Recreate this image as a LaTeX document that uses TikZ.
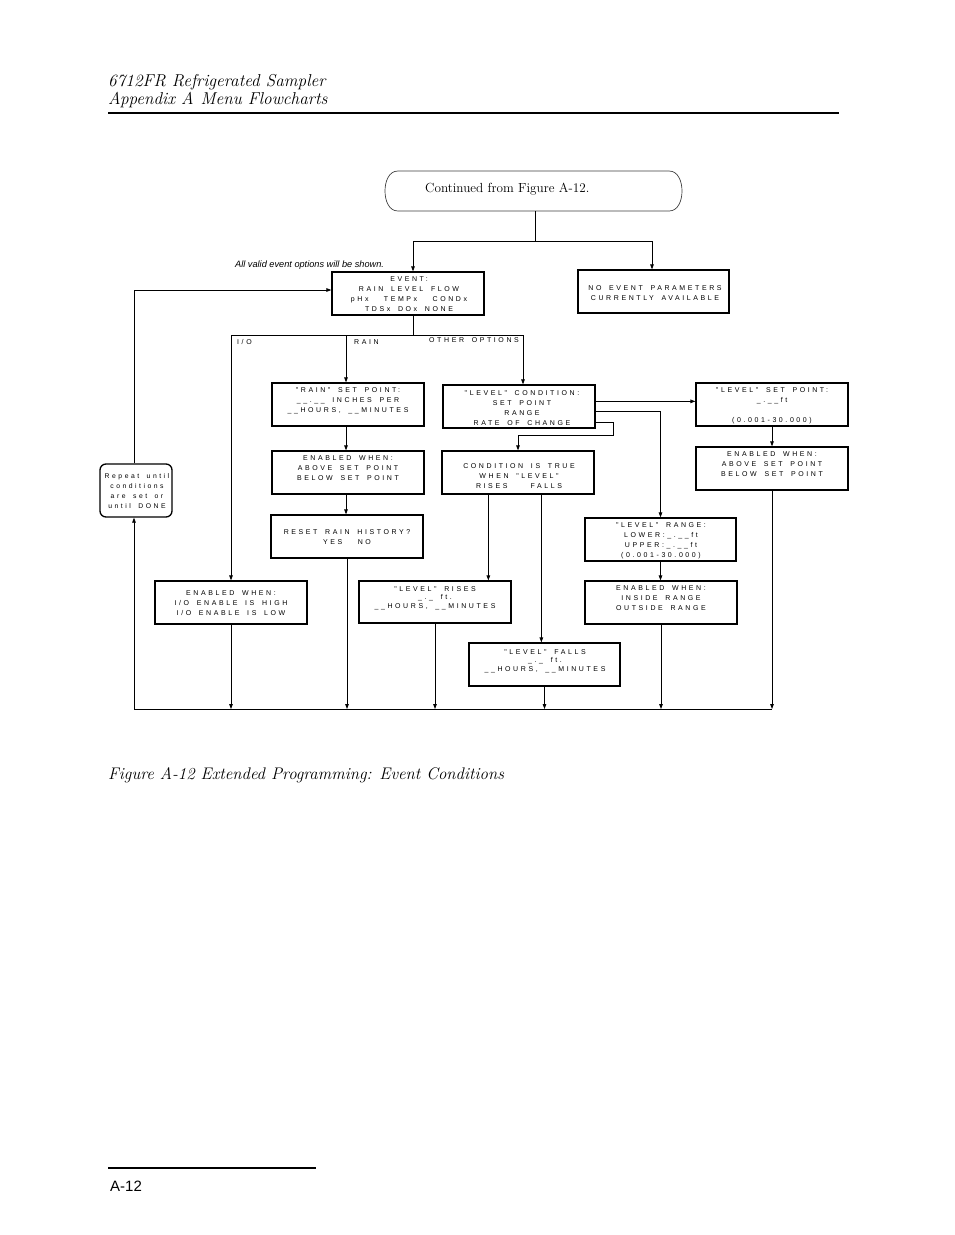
\documentclass[tikz,border=0pt]{standalone}
\usepackage{fontspec}
\usetikzlibrary{arrows.meta,calc,fit}
\newfontfamily\bxf[LetterSpace=37,WordSpace=1.7]{Liberation Sans}
\newfontfamily\plainsans{Liberation Sans}
\begin{document}
\begin{tikzpicture}[x=1pt,y=-1pt,
 box/.style={draw, line width=1.3pt, inner sep=0pt},
 rbox/.style={box, rounded corners=6pt},
 lbl/.style={font=\bxf\fontsize{7}{10}\selectfont, align=center, inner sep=0pt, anchor=north, yshift=-2pt},
 ln/.style={line width=0.8pt},
 arr/.style={ln, -{Triangle[length=5pt,width=3.6pt]}},
 tag/.style={font=\bxf\fontsize{7}{10}\selectfont, inner sep=0pt, anchor=west}]
\fill[white] (0,0) rectangle (954,1235);
\useasboundingbox (0,0) rectangle (954,1235);

% header
\node[anchor=base west, inner sep=0pt, font=\itshape\fontsize{17.2}{19}\selectfont] (h1) at (108,86) {6712FR Refrigerated Sampler};
\node[anchor=base west, inner sep=0pt, font=\itshape\fontsize{17.2}{19}\selectfont] (h2) at (108,104) {Appendix A\hspace{7pt}Menu Flowcharts};
\draw[line width=1.2pt] (108,113) -- (839,113);

% terminal
\node[anchor=base west, inner sep=0pt, font=\fontsize{13.2}{15}\selectfont] (cont) at (425,192) {Continued from Figure A-12.};
\draw[line width=0.7pt, black!75] (398,171) -- (669,171) to[out=0,in=90] (682,191) to[out=-90,in=0] (669,211) -- (398,211) to[out=180,in=-90] (385,191) to[out=90,in=180] cycle;
\coordinate (contS) at (535,211);

% note
\node[anchor=west, inner sep=0pt, font=\plainsans\itshape\fontsize{9.2}{10}\selectfont] (note) at (235,265) {All valid event options will be shown.};

% boxes
\node[box, fit={(332,272) (484,315)}] (event) {};
\node[lbl] (eventt) at (409,274.7) {EVENT:\\RAIN~LEVEL~FLOW\\pHx~~TEMPx~~CONDx\\TDSx~DOx~NONE};

\node[box, fit={(578,270) (729,313)}] (noev) {};
\node[lbl] (noevt) at (655,283.7) {NO EVENT PARAMETERS\\CURRENTLY AVAILABLE};

\node[box, fit={(272,383) (424,426)}] (rsp) {};
\node[lbl] (rspt) at (348,385.7) {"RAIN" SET POINT:\\\_\_.\_\_ INCHES PER\\\_\_HOURS, \_\_MINUTES};

\node[box, fit={(272,451) (424,494)}] (enr) {};
\node[lbl] (enrt) at (348,453.7) {ENABLED WHEN:\\ABOVE SET POINT\\BELOW SET POINT};

\node[box, fit={(271,515) (423,558)}] (reset) {};
\node[lbl] (resett) at (347,527.7) {RESET RAIN HISTORY?\\YES~~NO};

\node[box, fit={(155,581) (307,624)}] (eio) {};
\node[lbl] (eiot) at (231,588.7) {ENABLED WHEN:\\I/O ENABLE IS HIGH\\I/O ENABLE IS LOW};

\node[box, fit={(443,385) (595,428)}] (lc) {};
\node[lbl] (lct) at (522,388.7) {"LEVEL" CONDITION:\\SET POINT\\RANGE\\RATE OF CHANGE};

\node[box, fit={(442,451) (594,494)}] (cit) {};
\node[lbl] (citt) at (519,461.7) {CONDITION IS TRUE\\WHEN "LEVEL"\\RISES~~~FALLS};

\node[box, fit={(359,581) (511,623)}] (lrise) {};
\node[lbl] (lriset) at (435,584.7) {"LEVEL" RISES\\[-2pt]\_.\_ ft.\\[-1pt]\_\_HOURS, \_\_MINUTES};

\node[box, fit={(469,643) (620,686)}] (lfall) {};
\node[lbl] (lfallt) at (545,647.7) {"LEVEL" FALLS\\[-2pt]\_.\_ ft.\\[-1pt]\_\_HOURS, \_\_MINUTES};

\node[box, fit={(696,383) (848,426)}] (lsp) {};
\node[lbl] (lspt) at (772,385.7) {"LEVEL" SET POINT:\\\_.\_\_ft\\[10pt](0.001-30.000)};

\node[box, fit={(696,447) (848,490)}] (enl) {};
\node[lbl] (enlt) at (772,449.7) {ENABLED WHEN:\\ABOVE SET POINT\\BELOW SET POINT};

\node[box, fit={(585,518) (736,561)}] (lr) {};
\node[lbl] (lrt) at (661,520.7) {"LEVEL" RANGE:\\LOWER:\_.\_\_ft\\UPPER:\_.\_\_ft\\(0.001-30.000)};

\node[box, fit={(585,581) (737,624)}] (enrg) {};
\node[lbl] (enrgt) at (661,583.7) {ENABLED WHEN:\\INSIDE RANGE\\OUTSIDE RANGE};

\node[rbox, fit={(100,464) (172,517)}] (rep) {};
\node[lbl, font=\bxf\fontsize{6.8}{10}\selectfont] (rept) at (137,471.7) {Repeat until\\conditions\\are set or\\until DONE};

% branch labels
\node[tag] (lio) at (237,342) {I/O};
\node[tag] (lrain) at (354,342) {RAIN};
\node[tag] (loth) at (429,340) {OTHER OPTIONS};

% connectors
\draw[ln] (contS) -- ++(0,30) coordinate (t1);
\draw[arr] (t1) -| ($(event.north)+(5,0)$);
\draw[arr] (t1) -| ($(noev.north)+(-1.5,0)$);

\draw[ln] ($(event.south)+(5,0)$) -- ++(0,20) coordinate (sp);
\draw[arr] (sp) -| (eio.north);
\draw[arr] (sp) -| ($(lc.north)+(4,0)$);
\coordinate (spr) at ($(sp -| rsp.north)+(-2,0)$);
\draw[arr] (spr) -- (spr |- rsp.north);

\draw[arr] ($(rsp.south)+(-2,0)$) -- ($(enr.north)+(-2,0)$);
\draw[arr] ($(enr.south)+(-2,0)$) -- ($(reset.north)+(-1,0)$);

\coordinate (lcA) at ($(lc.north east)+(0,17)$);
\draw[arr] (lcA) -- (lcA -| lsp.west);
\coordinate (lcB) at ($(lc.north east)+(0,27)$);
\draw[arr] (lcB) -| (lr.north);
\coordinate (lcC) at ($(lc.north east)+(0,38)$);
\draw[arr] (lcC) -- ++(18,0) -- ++(0,13) -| (cit.north);

\coordinate (ciA) at ($(cit.south west)+(47,0)$);
\draw[arr] (ciA) -- (ciA |- lrise.north);
\coordinate (ciB) at ($(cit.south west)+(100,0)$);
\draw[arr] (ciB) -- (ciB |- lfall.north);

\draw[arr] (lsp.south) -- (enl.north);
\draw[arr] (lr.south) -- (lr.south |- enrg.north);

\coordinate (bus) at (134,709);
\foreach \b in {eio,reset,lrise,lfall,enrg,enl}
  \draw[arr] (\b.south) -- (\b.south |- bus);
\draw[ln] (bus) -- (bus -| enl.south);
\draw[arr] (bus) -- (bus |- rep.south);
\draw[arr] (bus |- rep.north) |- ($(event.west)+(0,-3.5)$);

% caption and footer
\node[anchor=base west, inner sep=0pt, font=\itshape\fontsize{16.8}{19}\selectfont] (cap) at (108,779) {Figure A-12 Extended Programming: Event Conditions};
\draw[line width=2pt] (108,1168) -- (316,1168);
\node[anchor=base west, inner sep=0pt, font=\plainsans\fontsize{15}{17}\selectfont] (pg) at (110,1191) {A-12};
\end{tikzpicture}
\end{document}
